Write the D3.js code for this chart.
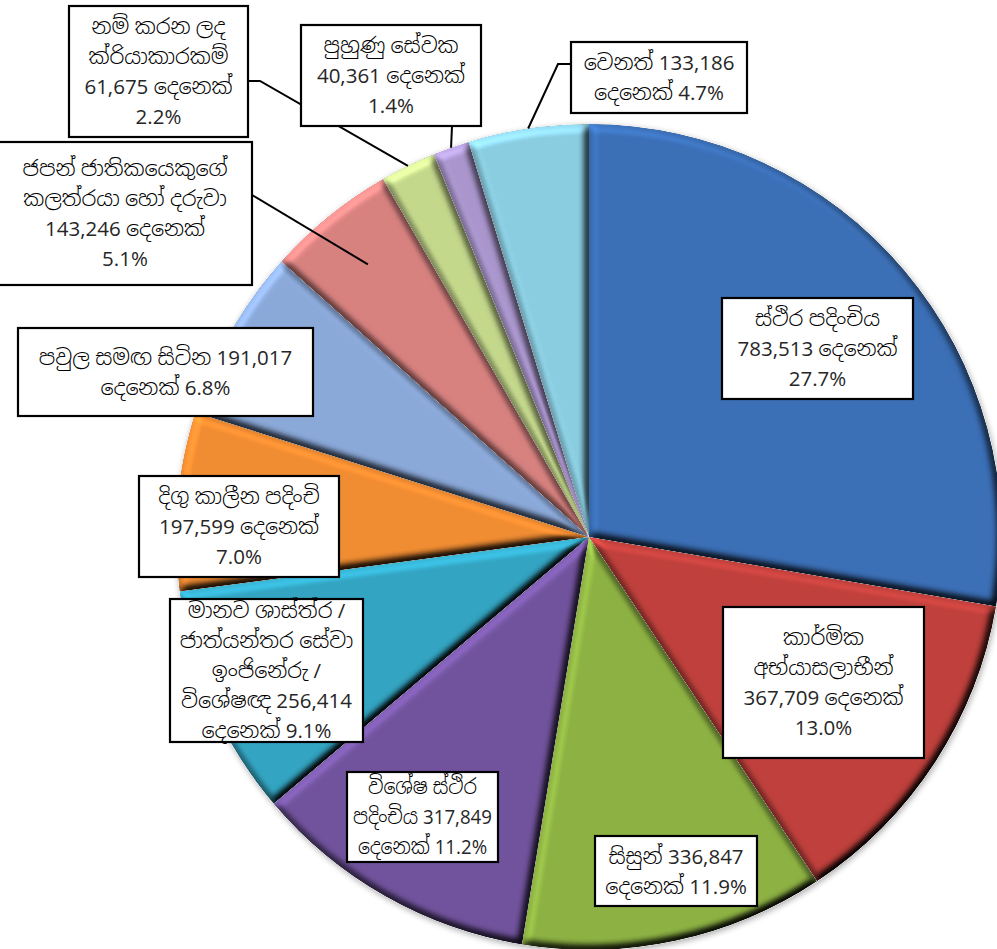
<!DOCTYPE html>
<html>
<head>
<meta charset="utf-8">
<script src="https://cdn.jsdelivr.net/npm/d3@7"></script>
<style>
  html, body { margin: 0; padding: 0; background: #ffffff; }
  svg { display: block; }
  .lbl { font-family: "Open Sans", "Noto Sans Sinhala", "Iskoola Pota", "Noto Sans", sans-serif; }
  .si { font-family: "Noto Sans Sinhala", "Iskoola Pota", "Noto Sans", sans-serif; font-size: 21.5px; font-weight: 300; fill: #000; }
  .la { font-family: "Open Sans", "Segoe UI", "Noto Sans", sans-serif; font-size: 20.5px; fill: #262626; }
</style>
</head>
<body>
<svg id="chart" width="997" height="949"></svg>
<script>
// ---- data ----
const categories = [
  "ස්ථිර පදිංචිය",
  "කාර්මික අභ්යාසලාභීන්",
  "සිසුන්",
  "විශේෂ ස්ථිර පදිංචිය",
  "මානව ශාස්ත්ර / ජාත්යන්තර සේවා ඉංජිනේරු / විශේෂඥ",
  "දිගු කාලීන පදිංචි",
  "පවුල සමඟ සිටින",
  "ජපන් ජාතිකයෙකුගේ කලත්රයා හෝ දරුවා",
  "නම් කරන ලද ක්රියාකාරකම්",
  "පුහුණු සේවක",
  "වෙනත්"
];
const values = [783513, 367709, 336847, 317849, 256414, 197599, 191017, 143246, 61675, 40361, 133186];
const unitWord = "දෙනෙක්";

// ---- style ----
const colors = ["#3B6FB6", "#BF403C", "#8DB243", "#71539D", "#33A5C3", "#F08C32",
                "#8AA8D8", "#D88280", "#C4D88C", "#AA96CD", "#8ACCE0"];

// ---- layout ----
const cx = 589, cy = 537, R = 413;
const labelLayout = [
  { box: [722, 298, 913, 399], words: [2, 2, 1] },
  { box: [723, 607, 924, 758], words: [1, 1, 2, 1] },
  { box: [595, 836, 757, 906], words: [2, 2] },
  { box: [347, 772, 498, 862], words: [2, 2, 2] },
  { box: [170, 599, 363, 742], words: [3, 2, 2, 2, 2] },
  { box: [139, 476, 339, 577], words: [3, 2, 1] },
  { box: [18, 328, 313, 416], words: [4, 2] },
  { box: [-2, 142, 252, 285], words: [2, 3, 2, 1], leader: { pts: [[252, 195]], r: 0.85 } },
  { box: [69, 6, 248, 137], words: [3, 1, 2, 1], leader: { pts: [[248, 81], [260, 81]], r: 1.0 } },
  { box: [301, 25, 481, 126], words: [2, 2, 1], leader: { pts: [[452, 126]], r: 1.0 } },
  { box: [571, 42, 747, 113], words: [2, 2], leader: { pts: [[571, 64], [558, 64]], r: 1.0 } }
];

const svg = d3.select("#chart");
const defs = svg.append("defs");

// bevel filter
const f = defs.append("filter").attr("id", "bevel")
  .attr("x", "-5%").attr("y", "-5%").attr("width", "110%").attr("height", "110%")
  .attr("color-interpolation-filters", "sRGB");
f.append("feGaussianBlur").attr("in", "SourceAlpha").attr("stdDeviation", 4).attr("result", "blur");
const dl = f.append("feDiffuseLighting").attr("in", "blur").attr("surfaceScale", 7)
  .attr("diffuseConstant", 1).attr("lighting-color", "#ffffff").attr("result", "light");
dl.append("feDistantLight").attr("azimuth", 235).attr("elevation", 55);
f.append("feComposite").attr("in", "SourceGraphic").attr("in2", "light")
  .attr("operator", "arithmetic").attr("k1", 1.22).attr("k2", 0).attr("k3", 0).attr("k4", 0).attr("result", "lit");
f.append("feComposite").attr("in", "lit").attr("in2", "SourceAlpha").attr("operator", "in");

// soft shadow
const sh = defs.append("filter").attr("id", "shadow")
  .attr("x", "-10%").attr("y", "-10%").attr("width", "120%").attr("height", "120%");
sh.append("feGaussianBlur").attr("in", "SourceAlpha").attr("stdDeviation", 3).attr("result", "b");
sh.append("feOffset").attr("in", "b").attr("dx", 1).attr("dy", 2).attr("result", "o");
sh.append("feComponentTransfer").attr("in", "o").attr("result", "oa")
  .append("feFuncA").attr("type", "linear").attr("slope", 0.35);
const mg = sh.append("feMerge");
mg.append("feMergeNode").attr("in", "oa");
mg.append("feMergeNode").attr("in", "SourceGraphic");

const total = d3.sum(values);
const pct = d3.format(".1%");
const num = d3.format(",");

const pie = d3.pie().sort(null).value(d => d).startAngle(0).endAngle(2 * Math.PI);
const arcs = pie(values);
const arc = d3.arc().innerRadius(0).outerRadius(R);

const g = svg.append("g").attr("transform", `translate(${cx},${cy})`);

g.append("circle").attr("r", R).attr("fill", "#ffffff").attr("filter", "url(#shadow)");

g.selectAll("path.slice")
  .data(arcs)
  .join("path")
  .attr("class", "slice")
  .attr("d", arc)
  .attr("fill", (d, i) => colors[i])
  .attr("filter", "url(#bevel)");

// leader lines
const lineGen = d3.line();
labelLayout.forEach((L, i) => {
  if (!L.leader) return;
  const a = arcs[i];
  const mid = (a.startAngle + a.endAngle) / 2;
  const rr = R * L.leader.r;
  const end = [cx + rr * Math.sin(mid), cy - rr * Math.cos(mid)];
  svg.append("path")
    .attr("d", lineGen(L.leader.pts.concat([end])))
    .attr("fill", "none")
    .attr("stroke", "#000")
    .attr("stroke-width", 2);
});

function runs(s) {
  const out = [];
  const re = /[\u0D80-\u0DFF\u200C\u200D]+|[^\u0D80-\u0DFF\u200C\u200D]+/g;
  let m;
  while ((m = re.exec(s)) !== null) out.push({ t: m[0], si: /[\u0D80-\u0DFF]/.test(m[0]) });
  return out;
}

// labels
const lineH = 30;
labelLayout.forEach((L, i) => {
  const [x0, y0, x1, y1] = L.box;
  const words = (categories[i] + " " + num(values[i]) + " " + unitWord + " " + pct(values[i] / total)).split(" ");
  const lines = [];
  let k = 0;
  L.words.forEach(n => { lines.push(words.slice(k, k + n).join(" ")); k += n; });

  svg.append("rect")
    .attr("x", x0).attr("y", y0)
    .attr("width", x1 - x0).attr("height", y1 - y0)
    .attr("fill", "#ffffff")
    .attr("stroke", "#000")
    .attr("stroke-width", 2.2);

  const midX = (x0 + x1) / 2, midY = (y0 + y1) / 2;
  const startY = midY - (lines.length - 1) * lineH / 2;
  const t = svg.append("text").attr("class", "lbl").attr("text-anchor", "middle");
  lines.forEach((ln, j) => {
    const lt = t.append("tspan").attr("x", midX).attr("y", startY + j * lineH + 7.5);
    runs(ln).forEach(r => lt.append("tspan").attr("class", r.si ? "si" : "la").text(r.t));
  });
  // keep text inside its box
  const bw = t.node().getBBox().width;
  const maxW = (x1 - Math.max(x0, 0)) - 12;
  if (bw > maxW) {
    const s = maxW / bw;
    t.attr("transform", `translate(${midX},0) scale(${s},1) translate(${-midX},0)`);
  }
});
</script>
</body>
</html>
